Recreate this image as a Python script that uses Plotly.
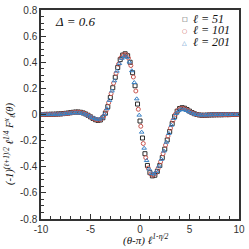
import plotly.graph_objects as go

# ---- data ----
x_l51 = [-10.0, -9.75, -9.5, -9.25, -9.0, -8.75, -8.5, -8.25, -8.0, -7.75,
         -7.5, -7.25, -7.0, -6.75, -6.5, -6.25, -6.0, -5.75, -5.5, -5.25,
         -5.0, -4.75, -4.5, -4.25, -4.0, -3.75, -3.5, -3.25, -3.0, -2.75,
         -2.5, -2.25, -2.0, -1.75, -1.5, -1.25, -1.0, -0.75, -0.5, -0.25,
         0.0, 0.25, 0.5, 0.75, 1.0, 1.25, 1.5, 1.75, 2.0, 2.25,
         2.5, 2.75, 3.0, 3.25, 3.5, 3.75, 4.0, 4.25, 4.5, 4.75,
         5.0, 5.25, 5.5, 5.75, 6.0, 6.25, 6.5, 6.75, 7.0, 7.25,
         7.5, 7.75, 8.0, 8.25, 8.5, 8.75, 9.0, 9.25, 9.5, 9.75, 10.0]
x_l101 = [-9.92, -9.67, -9.42, -9.17, -8.92, -8.67, -8.42, -8.17, -7.92, -7.67,
          -7.42, -7.17, -6.92, -6.67, -6.42, -6.17, -5.92, -5.67, -5.42, -5.17,
          -4.92, -4.67, -4.42, -4.17, -3.92, -3.67, -3.42, -3.17, -2.92, -2.67,
          -2.42, -2.17, -1.92, -1.67, -1.42, -1.17, -0.92, -0.67, -0.42, -0.17,
          0.08, 0.33, 0.58, 0.83, 1.08, 1.33, 1.58, 1.83, 2.08, 2.33,
          2.58, 2.83, 3.08, 3.33, 3.58, 3.83, 4.08, 4.33, 4.58, 4.83,
          5.08, 5.33, 5.58, 5.83, 6.08, 6.33, 6.58, 6.83, 7.08, 7.33,
          7.58, 7.83, 8.08, 8.33, 8.58, 8.83, 9.08, 9.33, 9.58, 9.83, 10.0]
x_l201 = [-10.0, -9.83, -9.58, -9.33, -9.08, -8.83, -8.58, -8.33, -8.08, -7.83,
          -7.58, -7.33, -7.08, -6.83, -6.58, -6.33, -6.08, -5.83, -5.58, -5.33,
          -5.08, -4.83, -4.58, -4.33, -4.08, -3.83, -3.58, -3.33, -3.08, -2.83,
          -2.58, -2.33, -2.08, -1.83, -1.58, -1.33, -1.08, -0.83, -0.58, -0.33,
          -0.08, 0.17, 0.42, 0.67, 0.92, 1.17, 1.42, 1.67, 1.92, 2.17,
          2.42, 2.67, 2.92, 3.17, 3.42, 3.67, 3.92, 4.17, 4.42, 4.67,
          4.92, 5.17, 5.42, 5.67, 5.92, 6.17, 6.42, 6.67, 6.92, 7.17,
          7.42, 7.67, 7.92, 8.17, 8.42, 8.67, 8.92, 9.17, 9.42, 9.67, 9.92]

y_l51 = [0.000, 0.000, 0.001, 0.001, 0.002, 0.002, 0.003, 0.004, 0.005, 0.007,
         0.009, 0.011, 0.014, 0.017, 0.019, 0.019, 0.017, 0.012, 0.004, -0.006,
         -0.018, -0.030, -0.040, -0.045, -0.042, -0.025, 0.010, 0.060, 0.130, 0.205,
         0.285, 0.360, 0.420, 0.455, 0.465, 0.450, 0.400, 0.320, 0.220, 0.080,
         -0.050, -0.180, -0.300, -0.390, -0.445, -0.470, -0.465, -0.435, -0.390, -0.330,
         -0.265, -0.195, -0.130, -0.070, -0.015, 0.025, 0.046, 0.052, 0.048, 0.038,
         0.026, 0.015, 0.006, 0.000, -0.004, -0.006, -0.006, -0.005, -0.004, -0.003,
         -0.003, -0.002, -0.002, -0.002, -0.001, -0.001, -0.001, 0.000, 0.000, 0.000, 0.000]

y_l101 = [0.000, 0.000, 0.001, 0.001, 0.001, 0.002, 0.002, 0.003, 0.004, 0.006,
          0.008, 0.010, 0.013, 0.016, 0.017, 0.017, 0.014, 0.008, 0.000, -0.010,
          -0.021, -0.032, -0.039, -0.042, -0.035, -0.012, 0.030, 0.090, 0.160, 0.240,
          0.315, 0.385, 0.435, 0.456, 0.458, 0.432, 0.375, 0.287, 0.180, 0.040,
          -0.090, -0.222, -0.330, -0.410, -0.455, -0.464, -0.450, -0.413, -0.362, -0.300,
          -0.235, -0.165, -0.105, -0.045, 0.002, 0.032, 0.045, 0.046, 0.041, 0.030,
          0.019, 0.010, 0.003, -0.002, -0.004, -0.005, -0.005, -0.004, -0.003, -0.003,
          -0.002, -0.002, -0.002, -0.001, -0.001, -0.001, 0.000, 0.000, 0.000, 0.000, 0.000]

y_l201 = [0.000, 0.000, 0.000, 0.001, 0.001, 0.001, 0.002, 0.002, 0.003, 0.004,
          0.006, 0.008, 0.010, 0.012, 0.013, 0.013, 0.012, 0.009, 0.003, -0.004,
          -0.013, -0.023, -0.031, -0.036, -0.036, -0.025, 0.002, 0.045, 0.108, 0.180,
          0.258, 0.332, 0.390, 0.430, 0.445, 0.438, 0.402, 0.335, 0.245, 0.120,
          -0.005, -0.135, -0.258, -0.352, -0.418, -0.452, -0.455, -0.435, -0.395, -0.343,
          -0.280, -0.212, -0.145, -0.082, -0.030, 0.008, 0.030, 0.038, 0.037, 0.031,
          0.022, 0.013, 0.005, 0.000, -0.003, -0.004, -0.004, -0.003, -0.003, -0.002,
          -0.002, -0.001, -0.001, -0.001, -0.001, 0.000, 0.000, 0.000, 0.000, 0.000, 0.000]

series_names = ["ℓ = 51", "ℓ = 101", "ℓ = 201"]
x_tick_vals = [-10, -5, 0, 5, 10]
x_tick_text = ["-10", "-5", "0", "5", "10"]
y_tick_vals = [-0.8, -0.6, -0.4, -0.2, 0, 0.2, 0.4, 0.6, 0.8]
y_tick_text = ["-0.8", "-0.6", "-0.4", "-0.2", "0", "0.2", "0.4", "0.6", "0.8"]

colors = ["#2b2b2b", "#c8554f", "#3b82c4"]
symbols = ["square-open", "circle-open", "triangle-up-open"]
legend_glyphs = ["□", "○", "△"]

fig = go.Figure()
for xs, ys, c, s, n in zip([x_l51, x_l101, x_l201], [y_l51, y_l101, y_l201],
                           colors, symbols, series_names):
    fig.add_trace(go.Scatter(
        x=xs, y=ys, mode="markers", name=n,
        marker=dict(symbol=s, size=4, color=c, line=dict(color=c, width=1)),
        showlegend=False,
    ))

axis_common = dict(
    showgrid=False, zeroline=False, showline=True, linecolor="#333333", linewidth=1.5,
    mirror=True, ticks="inside", ticklen=5, tickwidth=1, tickcolor="#333333",
    tickfont=dict(family="Liberation Sans, Arial, sans-serif", size=10, color="#333333"),
)
fig.update_xaxes(range=[-10, 10], tickvals=x_tick_vals, ticktext=x_tick_text,
                 minor=dict(dtick=1, ticks="inside", ticklen=3, tickcolor="#333333"),
                 **axis_common)
fig.update_yaxes(range=[-0.8, 0.8], tickvals=y_tick_vals, ticktext=y_tick_text,
                 minor=dict(dtick=0.05, tick0=0, ticks="inside", ticklen=3, tickcolor="#333333"),
                 **axis_common)

serif_it = "Liberation Serif, Times New Roman, serif"
ann = []
ann.append(dict(x=0.06, y=0.945, xref="paper", yref="paper", xanchor="left", yanchor="middle",
                text="<i>Δ = 0.6</i>", showarrow=False,
                font=dict(family=serif_it, size=13, color="#111111")))
legend_y = [0.958, 0.902, 0.846]
for g, c, n, ly in zip(legend_glyphs, colors, series_names, legend_y):
    ann.append(dict(x=0.725, y=ly, xref="paper", yref="paper", xanchor="center", yanchor="middle",
                    text=g, showarrow=False, font=dict(family="DejaVu Sans", size=6, color=c)))
    ann.append(dict(x=0.76, y=ly, xref="paper", yref="paper", xanchor="left", yanchor="middle",
                    text="<i>" + n + "</i>", showarrow=False,
                    font=dict(family=serif_it, size=12, color="#111111")))
ann.append(dict(x=0.53, y=-0.055, xref="paper", yref="paper", xanchor="center", yanchor="top",
                text="<i>(θ-π) ℓ<sup>1-η/2</sup></i>", showarrow=False,
                font=dict(family=serif_it, size=11, color="#111111")))
ann.append(dict(x=-0.16, y=0.36, xref="paper", yref="paper", xanchor="center", yanchor="middle",
                text="<i>(-1)<sup>(ℓ+1)/2</sup> ℓ<sup>1/4</sup> F<sup>x</sup><sub>ℓ</sub>(θ)</i>",
                textangle=-90, showarrow=False,
                font=dict(family=serif_it, size=10.5, color="#111111")))

fig.update_layout(
    width=249, height=249,
    margin=dict(l=41, r=10, t=4, b=30),
    paper_bgcolor="white", plot_bgcolor="white",
    annotations=ann,
)

fig.write_html("out.html", config={"displayModeBar": False},
               post_script="document.body.style.margin='0px';document.body.style.overflow='hidden';")
